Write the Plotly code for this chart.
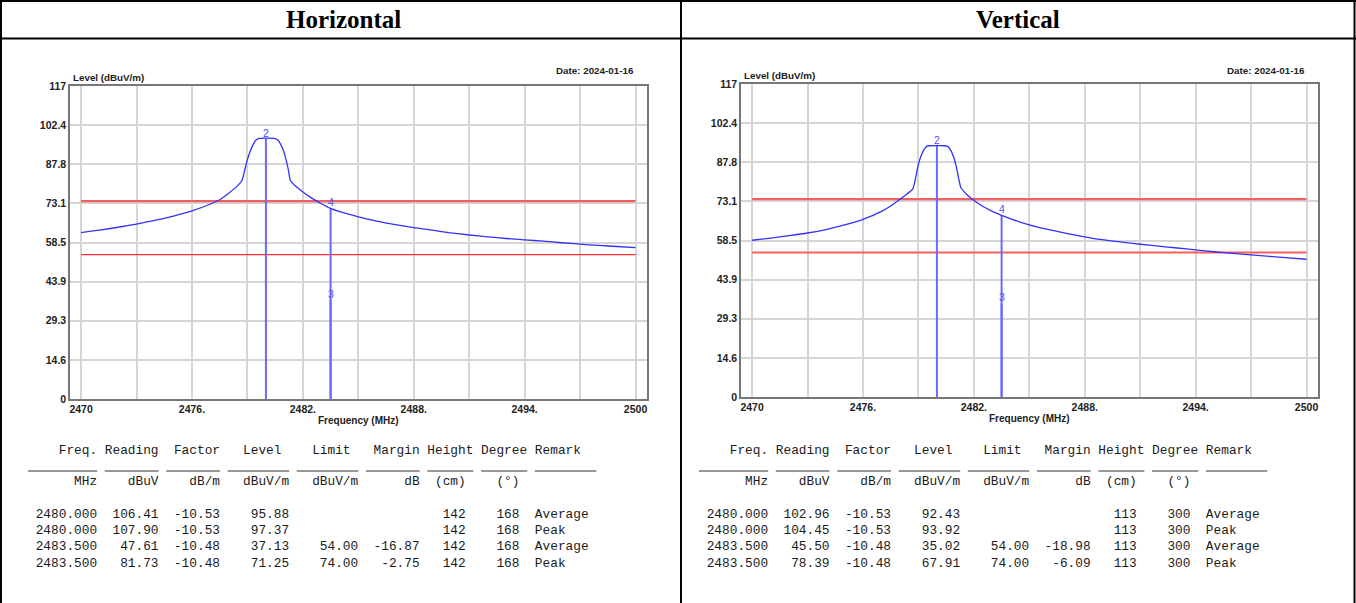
import plotly.graph_objects as go

W, H = 1356, 603

# ---------------- data ----------------
h_freq = [2470, 2471, 2472, 2473, 2474, 2475, 2476, 2477, 2477.5, 2478, 2478.4, 2478.7,
          2478.85, 2479.0, 2479.15, 2479.3, 2479.45, 2479.6, 2480.5, 2480.65, 2480.8,
          2480.95, 2481.1, 2481.22, 2481.32, 2481.6, 2482, 2482.5, 2483, 2483.5, 2484,
          2485, 2486, 2487, 2488, 2489, 2490, 2491, 2492, 2493, 2494, 2495, 2496, 2497,
          2498, 2499, 2500]
h_level = [62.2, 63.1, 64.2, 65.4, 66.8, 68.4, 70.3, 72.9, 74.5, 77.0, 79.3, 81.6,
           85.5, 89.5, 92.6, 95.0, 96.7, 97.37, 97.37, 96.8, 95.2,
           92.8, 89.2, 85.5, 81.8, 79.6, 77.4, 75.0, 73.0, 71.25, 70.0,
           68.1, 66.5, 65.2, 64.1, 63.1, 62.1, 61.3, 60.6, 60.0, 59.5, 59.0, 58.4, 57.9,
           57.4, 57.0, 56.6]

v_freq = [2470, 2471, 2472, 2473, 2474, 2475, 2476, 2477, 2477.5, 2478, 2478.4, 2478.7,
          2478.85, 2479.0, 2479.15, 2479.3, 2479.45, 2479.6, 2480.45, 2480.6, 2480.75,
          2480.9, 2481.05, 2481.2, 2481.3, 2481.6, 2481.9, 2482.5, 2483, 2483.5, 2484,
          2484.5, 2485.5, 2486.5, 2487.5, 2488.8, 2490, 2491, 2492, 2493, 2494, 2495,
          2496, 2497, 2498, 2499, 2500]
v_level = [58.6, 59.4, 60.3, 61.3, 62.6, 64.3, 66.4, 69.4, 71.4, 73.9, 76.0, 77.8,
           82.0, 87.0, 90.3, 92.5, 93.7, 93.92, 93.92, 93.6, 92.2,
           89.8, 86.0, 81.0, 78.2, 75.8, 74.0, 71.2, 69.4, 67.91, 66.6,
           65.4, 63.4, 61.9, 60.5, 58.9, 57.9, 57.1, 56.4, 55.7, 55.0, 54.3,
           53.7, 53.1, 52.6, 52.0, 51.5]

x_tickvals = [2470, 2473, 2476, 2479, 2482, 2485, 2488, 2491, 2494, 2497, 2500]
x_ticktext = ["2470", "", "2476.", "", "2482.", "", "2488.", "", "2494.", "", "2500"]
y_tickvals = [0, 14.625, 29.25, 43.875, 58.5, 73.125, 87.75, 102.375, 117]
y_ticktext = ["0", "14.6", "29.3", "43.9", "58.5", "73.1", "87.8", "102.4", "117"]

limit_levels = [74.00, 54.00]
limit_start, limit_end = 2470, 2500

# table
t_freq = [2480.000, 2480.000, 2483.500, 2483.500]
t_factor = [-10.53, -10.53, -10.48, -10.48]
t_limit = [None, None, 54.00, 74.00]
t_remark = ["Average", "Peak", "Average", "Peak"]

h_reading = [106.41, 107.90, 47.61, 81.73]
h_tlevel = [95.88, 97.37, 37.13, 71.25]
h_margin = [None, None, -16.87, -2.75]
h_height = [142, 142, 142, 142]
h_degree = [168, 168, 168, 168]

v_reading = [102.96, 104.45, 45.50, 78.39]
v_tlevel = [92.43, 93.92, 35.02, 67.91]
v_margin = [None, None, -18.98, -6.09]
v_height = [113, 113, 113, 113]
v_degree = [300, 300, 300, 300]

# markers (number, table row index)
marker_labels = ["2", "3", "4"]
marker_rows = [1, 2, 3]

header_cols = ["Freq.", "Reading", "Factor", "Level", "Limit", "Margin", "Height", "Degree", "Remark"]
unit_cols = ["MHz", "dBuV", "dB/m", "dBuV/m", "dBuV/m", "dB", "(cm)", "(°)"]

# ---------------- layout helpers ----------------
def px(x):
    return x / W


def py(y):
    return 1 - y / H


CW = 7.68  # monospace char width in px
header_start = [4, 10, 19, 28, 37, 45, 52, 59, 66]
unit_start = [6, 13, 21, 28, 37, 49, 53, 61]
data_end = [9, 17, 25, 34, 43, 51, 57, 64]
remark_start = 66
underline_segs = [(0, 9), (10, 7), (18, 7), (26, 8), (35, 8), (44, 7), (52, 6), (59, 6), (66, 8)]
NB = "\u00a0"


def build_line(items, length=76):
    chars = [NB] * length
    for txt, start in items:
        for i, c in enumerate(txt):
            chars[start + i] = c
    s = "".join(chars).rstrip(NB)
    return s


def fmt(v, d=2):
    if v is None:
        return ""
    if isinstance(v, int):
        return str(v)
    return f"{v:.{d}f}"


panels = [
    dict(title="Horizontal", title_x=343,
         x0=70, x1=647, y0=86, y1=399,
         freq=h_freq, level=h_level,
         reading=h_reading, tlevel=h_tlevel, margin=h_margin, height=h_height, degree=h_degree,
         tx0=28, red_widths=[2.2, 1.2], red_colors=["rgb(245,95,95)", "rgb(255,45,45)"]),
    dict(title="Vertical", title_x=1018,
         x0=741, x1=1318, y0=84, y1=397,
         freq=v_freq, level=v_level,
         reading=v_reading, tlevel=v_tlevel, margin=v_margin, height=v_height, degree=v_degree,
         tx0=699, red_widths=[2.2, 2.0], red_colors=["rgb(245,95,95)", "rgb(245,95,95)"]),
]

fig = go.Figure()
annotations = []
shapes = []

tick_font = dict(family="Arial", size=10.5, color="#222222", weight="bold")

for i, p in enumerate(panels):
    n = "" if i == 0 else str(i + 1)
    xa, ya = "x" + n, "y" + n

    # limit lines
    for lv, lw, lc in zip(limit_levels, p["red_widths"], p["red_colors"]):
        fig.add_trace(go.Scatter(x=[limit_start, limit_end], y=[lv, lv], mode="lines",
                                 line=dict(color=lc, width=lw), xaxis=xa, yaxis=ya,
                                 showlegend=False, hoverinfo="skip"))
    # marker lines
    for lab, r in zip(marker_labels, marker_rows):
        fig.add_trace(go.Scatter(x=[t_freq[r], t_freq[r]], y=[0, p["tlevel"][r]], mode="lines",
                                 line=dict(color="rgb(105,105,255)", width=2), xaxis=xa, yaxis=ya,
                                 showlegend=False, hoverinfo="skip"))
    # measured trace
    fig.add_trace(go.Scatter(x=p["freq"], y=p["level"], mode="lines",
                             line=dict(color="rgb(50,50,250)", width=1.3, shape="spline", smoothing=0.6),
                             xaxis=xa, yaxis=ya, showlegend=False))
    # marker labels
    for lab, r in zip(marker_labels, marker_rows):
        annotations.append(dict(x=t_freq[r], y=p["tlevel"][r], xref=xa, yref=ya, text=lab,
                                showarrow=False, yanchor="bottom", xanchor="center",
                                font=dict(family="Arial", size=10.5, color="rgb(80,80,255)"),
                                borderpad=0, yshift=-1))

    axis_common = dict(showgrid=True, gridcolor="#d6d6d6", gridwidth=1.5,
                       showline=True, linecolor="#777777", linewidth=1.5, mirror=True,
                       zeroline=False, ticks="", tickfont=tick_font, fixedrange=True,
                       automargin=False)
    fig.update_layout(**{
        ("xaxis" + n): dict(domain=[px(p["x0"]), px(p["x1"])], range=[2469.4, 2500.62],
                            tickmode="array", tickvals=x_tickvals, ticktext=x_ticktext,
                            anchor=ya, **axis_common),
        ("yaxis" + n): dict(domain=[py(p["y1"]), py(p["y0"])], range=[0, 117],
                            tickmode="array", tickvals=y_tickvals, ticktext=y_ticktext,
                            anchor=xa, ticklabelstandoff=0, **axis_common),
    })

    # axis texts
    annotations.append(dict(x=px(p["x0"] + 1), y=py(p["y0"] - 8), xref="paper", yref="paper",
                            text="Level (dBuV/m)", showarrow=False, xanchor="left", yanchor="middle",
                            font=dict(family="Arial", size=9.8, color="#222222", weight="bold")))
    annotations.append(dict(x=px(p["x1"] - 11), y=py(70), xref="paper", yref="paper",
                            text="Date: 2024-01-16", showarrow=False, xanchor="right", yanchor="middle",
                            font=dict(family="Arial", size=9.8, color="#222222", weight="bold")))
    annotations.append(dict(x=px((p["x0"] + p["x1"]) / 2), y=py(p["y1"] + 21), xref="paper", yref="paper",
                            text="Frequency (MHz)", showarrow=False, xanchor="center", yanchor="middle",
                            font=dict(family="Arial", size=10, color="#222222", weight="bold")))
    # panel title
    annotations.append(dict(x=px(p["title_x"]), y=py(20), xref="paper", yref="paper",
                            text=p["title"], showarrow=False, xanchor="center", yanchor="middle",
                            font=dict(family="Liberation Serif", size=25, color="#000000", weight="bold")))

    # table
    mono = dict(family="Liberation Mono", size=12.8, color="#1a1a1a")
    rows = []
    rows.append((450, build_line(list(zip(header_cols, header_start)))))
    rows.append((481.5, build_line(list(zip(unit_cols, unit_start)))))
    row_y = [514, 530.3, 546.7, 563]
    for k in range(4):
        vals = [fmt(t_freq[k], 3), fmt(p["reading"][k]), fmt(t_factor[k]), fmt(p["tlevel"][k]),
                fmt(t_limit[k]), fmt(p["margin"][k]), fmt(p["height"][k]), fmt(p["degree"][k])]
        items = [(v, e - len(v)) for v, e in zip(vals, data_end)]
        items.append((t_remark[k], remark_start))
        rows.append((row_y[k], build_line(items)))
    for yc, txt in rows:
        annotations.append(dict(x=px(p["tx0"]), y=py(yc), xref="paper", yref="paper", text=txt,
                                showarrow=False, xanchor="left", yanchor="middle", font=mono,
                                borderpad=0, borderwidth=0))
    for s, ln in underline_segs:
        shapes.append(dict(type="line", xref="paper", yref="paper",
                           x0=px(p["tx0"] + s * CW), x1=px(p["tx0"] + (s + ln) * CW),
                           y0=py(471), y1=py(471), line=dict(color="#333333", width=1)))

# outer table borders
border = dict(color="#000000", width=2)
for (x0, y0, x1, y1) in [(0, 1, W, 1), (1, 0, 1, H), (W - 1.5, 0, W - 1.5, H), (681, 0, 681, H), (0, 38.5, W, 38.5)]:
    shapes.append(dict(type="line", xref="paper", yref="paper", x0=px(x0), x1=px(x1),
                       y0=py(y0), y1=py(y1), line=border))

fig.update_layout(width=W, height=H, margin=dict(l=0, r=0, t=0, b=0, autoexpand=False),
                  paper_bgcolor="white", plot_bgcolor="white",
                  annotations=annotations, shapes=shapes, showlegend=False)

fig.write_html("out.html", config={"displayModeBar": False})
